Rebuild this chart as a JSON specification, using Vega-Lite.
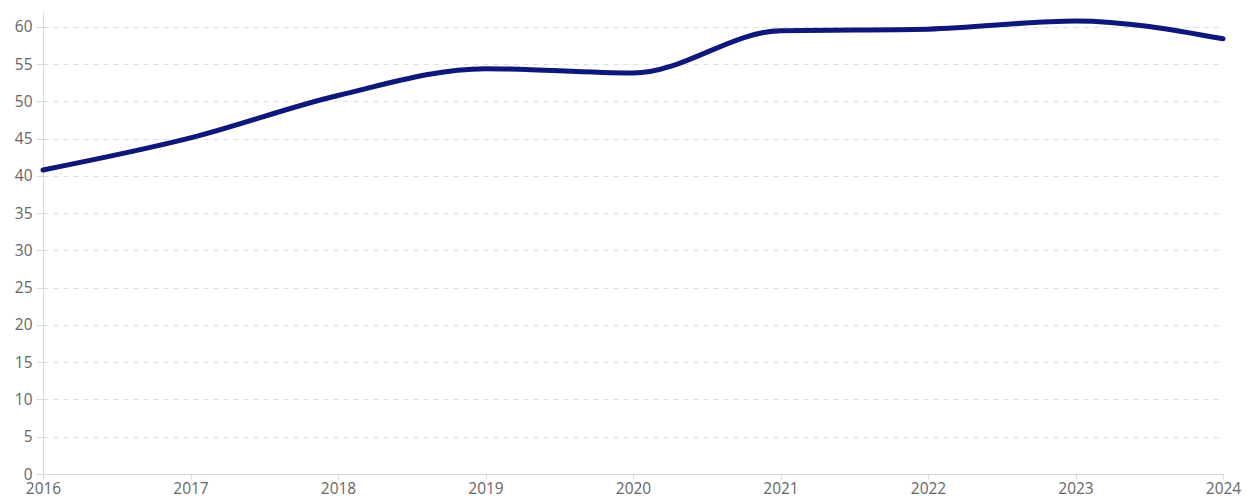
{
  "$schema": "https://vega.github.io/schema/vega-lite/v6.json",
  "width": 1180,
  "height": 462,
  "autosize": {"type": "none"},
  "padding": {"left": 43, "top": 12, "right": 24, "bottom": 24},
  "background": "white",
  "config": {"view": {"stroke": null}, "font": "Open Sans"},
  "data": {"values": [
    {"year": 2016, "value": 40.8},
    {"year": 2017, "value": 45.1},
    {"year": 2018, "value": 50.8},
    {"year": 2019, "value": 54.4},
    {"year": 2020, "value": 53.8},
    {"year": 2021, "value": 59.5},
    {"year": 2022, "value": 59.7},
    {"year": 2023, "value": 60.8},
    {"year": 2024, "value": 58.4}
  ]},
  "mark": {"type": "line", "interpolate": "monotone", "color": "#0e177a", "strokeWidth": 5, "strokeCap": "round"},
  "encoding": {
    "x": {"field": "year", "type": "quantitative",
      "scale": {"domain": [2016, 2024], "nice": false, "zero": false},
      "axis": {"title": null, "format": "d", "values": [2016,2017,2018,2019,2020,2021,2022,2023,2024], "grid": false,
        "domainColor": "#d5d9e3", "tickColor": "#d5d9e3", "tickSize": 5, "labelColor": "#666666", "labelFontSize": 15.5, "labelFlush": false, "labelPadding": 2}},
    "y": {"field": "value", "type": "quantitative",
      "scale": {"domain": [0, 62], "nice": false},
      "axis": {"title": null, "values": [0,5,10,15,20,25,30,35,40,45,50,55,60], "grid": true, "gridColor": "#d9dee8", "gridDash": [5,5],
        "domainColor": "#d5d9e3", "tickColor": "#d5d9e3", "tickSize": 7, "labelColor": "#666666", "labelFontSize": 15.5, "labelPadding": 4}}
  }
}
